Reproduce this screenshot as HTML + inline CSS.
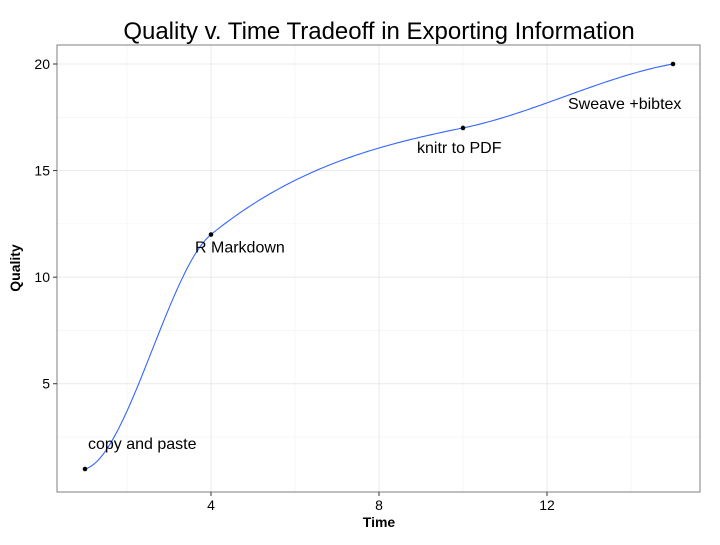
<!DOCTYPE html>
<html><head><meta charset="utf-8"><style>
body{margin:0;background:#fff}
svg text{font-family:"Liberation Sans",Arial,sans-serif}
</style></head><body>
<svg id="chart" width="720" height="540">
<rect width="720" height="540" fill="#fff"/>
<text x="379" y="39" font-size="24" text-anchor="middle">Quality v. Time Tradeoff in Exporting Information</text>
<g id="grid"></g>
<g id="marks"></g>
<rect x="57" y="45" width="643" height="447" fill="none" stroke="#7f7f7f" stroke-width="1"/>
<g id="axes"></g>
<text x="379" y="527" font-size="14" font-weight="bold" text-anchor="middle">Time</text>
<text transform="translate(20,268) rotate(-90)" font-size="14" font-weight="bold" text-anchor="middle">Quality</text>
</svg>
<script>
const times=[1,4,10,15];
const quality=[1,12,17,20];
const slopes=[0.5,1.6,0.4,0.35];
const labels=["copy and paste","R Markdown","knitr to PDF","Sweave +bibtex"];
const xTicks=[4,8,12];
const yTicks=[5,10,15,20];
const xMinor=[2,6,10,14];
const yMinor=[2.5,7.5,12.5,17.5];
const labelOffsets=[[3,-20],[-16,18],[-46,25],[-105,45]];
const NS="http://www.w3.org/2000/svg";
const L=57,R=700,T=45,B=492;
const X=v=>85+(v-1)*42;
const Y=v=>469-(v-1)*(405/19);
function mk(tag,attrs,parent){const e=document.createElementNS(NS,tag);for(const k in attrs)e.setAttribute(k,attrs[k]);parent.appendChild(e);return e;}
const grid=document.getElementById('grid'),marks=document.getElementById('marks'),axes=document.getElementById('axes');
xMinor.forEach(v=>{const l=mk('line',{x1:X(v),x2:X(v),y1:T,y2:B,stroke:'#f2f2f2','stroke-width':0.6},grid);

});
yMinor.forEach(v=>{const l=mk('line',{x1:L,x2:R,y1:Y(v),y2:Y(v),stroke:'#f2f2f2','stroke-width':0.6},grid);

});
xTicks.forEach(v=>{const l=mk('line',{x1:X(v),x2:X(v),y1:T,y2:B,stroke:'#ebebeb','stroke-width':1.1},grid);


const t=mk('line',{x1:X(v),x2:X(v),y1:B,y2:B+4,stroke:'#333'},axes);


const tx=mk('text',{x:X(v),y:B+18,'font-size':14,'text-anchor':'middle'},axes);tx.textContent=v;

});
yTicks.forEach(v=>{const l=mk('line',{x1:L,x2:R,y1:Y(v),y2:Y(v),stroke:'#ebebeb','stroke-width':1.1},grid);


const t=mk('line',{x1:L-4,x2:L,y1:Y(v),y2:Y(v),stroke:'#333'},axes);


const tx=mk('text',{x:L-7,y:Y(v)+5,'font-size':14,'text-anchor':'end'},axes);tx.textContent=v;

});
function hermite(x){let i=0;while(i<times.length-2&&x>times[i+1])i++;
const h=times[i+1]-times[i],t=(x-times[i])/h,t2=t*t,t3=t2*t;
return (2*t3-3*t2+1)*quality[i]+(t3-2*t2+t)*h*slopes[i]+(-2*t3+3*t2)*quality[i+1]+(t3-t2)*h*slopes[i+1];}
let d='';
const x0=times[0],x1=times[times.length-1];
for(let i=0;i<=200;i++){const x=x0+(x1-x0)*i/200;d+=(i?'L':'M')+X(x).toFixed(2)+','+Y(hermite(x)).toFixed(2);}
const p=mk('path',{d:d,fill:'none',stroke:'#3366FF','stroke-width':1.1},marks);


times.forEach((t,i)=>{const c=mk('circle',{cx:X(t),cy:Y(quality[i]),r:2.3,fill:'#000'},marks);


const tx=mk('text',{x:X(t)+labelOffsets[i][0],y:Y(quality[i])+labelOffsets[i][1],'font-size':16},marks);tx.textContent=labels[i];

});
</script>
</body></html>
